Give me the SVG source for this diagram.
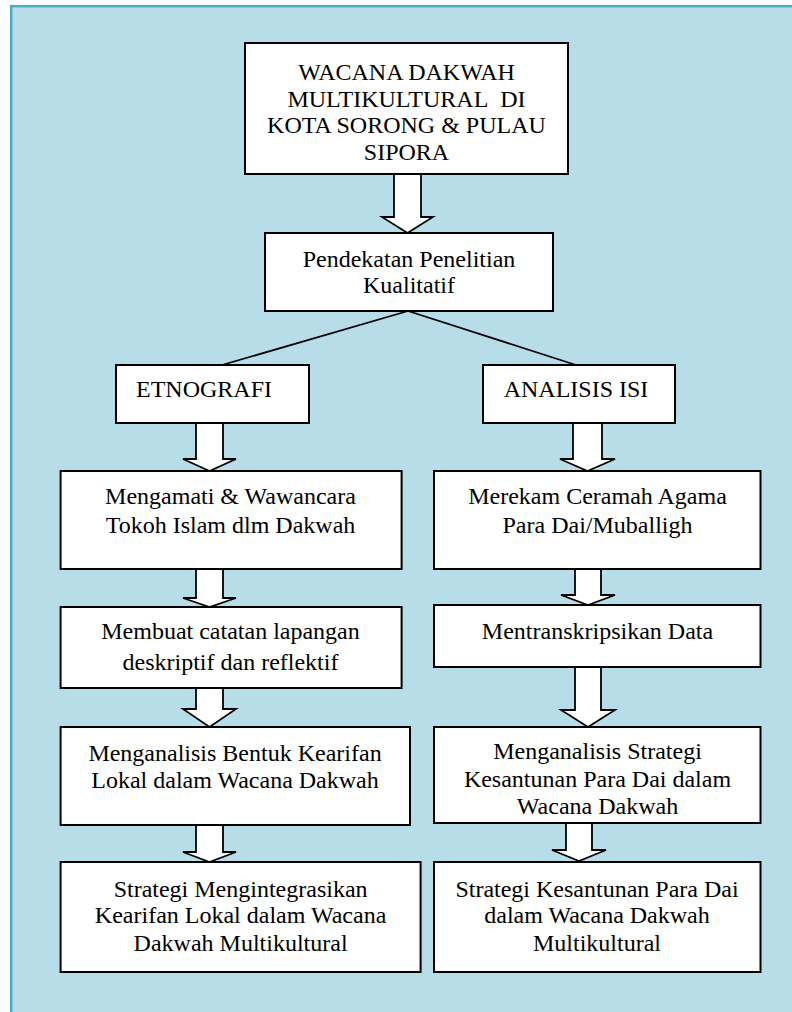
<svg xmlns="http://www.w3.org/2000/svg" width="792" height="1012" viewBox="0 0 792 1012" font-family="'Liberation Serif', 'DejaVu Serif', serif">
<defs>
<style>
.box{fill:#ffffff;stroke:#000000;stroke-width:2}
.arr{fill:#ffffff;stroke:#000000;stroke-width:1.8;stroke-linejoin:miter}
.ln{fill:none;stroke:#000000;stroke-width:1.8}
.t{font-family:'Liberation Serif', 'DejaVu Serif', serif;font-size:24px;fill:#000000;text-anchor:middle}
</style>
<clipPath id="clipStrat"><rect x="434" y="728" width="327" height="87"/></clipPath>
</defs>
<rect x="0" y="0" width="792" height="1012" fill="#ffffff"/>
<rect x="11.2" y="6.2" width="800" height="1020" fill="#b7dde8" stroke="#4bacc6" stroke-width="2.5"/>

<g id="connectors">
<polygon class="arr" points="394,174 421,174 421,217 433,217 407.5,233 382,217 394,217"/>
<line class="ln" x1="408" y1="311" x2="222" y2="365"/>
<line class="ln" x1="408" y1="311" x2="576" y2="365"/>
<polygon class="arr" points="196,423 223,423 223,459 236,459 209.5,471 183,459 196,459"/>
<polygon class="arr" points="196,569 223,569 223,598 236,598 209.5,607 183,598 196,598"/>
<polygon class="arr" points="196,688 223,688 223,709 236,709 209.5,727 183,709 196,709"/>
<polygon class="arr" points="196,825 223,825 223,852 236,852 209.5,862 183,852 196,852"/>
<polygon class="arr" points="573,423 602,423 602,459 615,459 587.5,471 560,459 573,459"/>
<polygon class="arr" points="575,569 601,569 601,595 615,595 588,605 561,595 575,595"/>
<polygon class="arr" points="575,667 601,667 601,710 615,710 588,727 561,710 575,710"/>
<polygon class="arr" points="566,823 592,823 592,850 606,850 579,861 552,850 566,850"/>
</g>

<g id="node-wacana">
<rect class="box" x="245" y="43" width="323" height="131"/>
<text class="t" x="406.5" y="80">WACANA DAKWAH</text>
<text class="t" x="406.5" y="107">MULTIKULTURAL&#160; DI</text>
<text class="t" x="406.5" y="133">KOTA SORONG &amp; PULAU</text>
<text class="t" x="406.5" y="160">SIPORA</text>
</g>

<g id="node-pendekatan">
<rect class="box" x="265" y="233" width="288" height="78"/>
<text class="t" x="409" y="267">Pendekatan Penelitian</text>
<text class="t" x="409" y="293">Kualitatif</text>
</g>

<g id="node-etnografi">
<rect class="box" x="116" y="365" width="193" height="58"/>
<text class="t" x="204" y="397">ETNOGRAFI</text>
</g>

<g id="node-analisis">
<rect class="box" x="483" y="365" width="192" height="58"/>
<text class="t" x="576" y="397">ANALISIS ISI</text>
</g>

<g id="node-mengamati">
<rect class="box" x="60.6" y="471" width="341" height="98"/>
<text class="t" x="230.5" y="504">Mengamati &amp; Wawancara</text>
<text class="t" x="230.5" y="533">Tokoh Islam dlm Dakwah</text>
</g>

<g id="node-merekam">
<rect class="box" x="434" y="471" width="326.5" height="98"/>
<text class="t" x="597.5" y="504">Merekam Ceramah Agama</text>
<text class="t" x="597.5" y="533">Para Dai/Muballigh</text>
</g>

<g id="node-membuat">
<rect class="box" x="60.6" y="607" width="341" height="81"/>
<text class="t" x="230.5" y="639">Membuat catatan lapangan</text>
<text class="t" x="230.5" y="670">deskriptif dan reflektif</text>
</g>

<g id="node-mentranskripsikan">
<rect class="box" x="434" y="605" width="326.5" height="62"/>
<text class="t" x="597.5" y="639">Mentranskripsikan Data</text>
</g>

<g id="node-menganalisis-bentuk">
<rect class="box" x="60.6" y="727" width="349.4" height="98"/>
<text class="t" x="235" y="761">Menganalisis Bentuk Kearifan</text>
<text class="t" x="235" y="788">Lokal dalam Wacana Dakwah</text>
</g>

<g id="node-menganalisis-strategi">
<rect class="box" x="434" y="727" width="326.5" height="96"/>
<g clip-path="url(#clipStrat)">
<text class="t" x="597.5" y="759">Menganalisis Strategi</text>
<text class="t" x="597.5" y="787">Kesantunan Para Dai dalam</text>
<text class="t" x="597.5" y="814">Wacana Dakwah</text>
</g>
</g>

<g id="node-strategi-integrasi">
<rect class="box" x="60.6" y="862" width="360" height="110"/>
<text class="t" x="240.6" y="897">Strategi Mengintegrasikan</text>
<text class="t" x="240.6" y="923">Kearifan Lokal dalam Wacana</text>
<text class="t" x="240.6" y="951">Dakwah Multikultural</text>
</g>

<g id="node-strategi-kesantunan">
<rect class="box" x="434" y="862" width="326.5" height="110"/>
<text class="t" x="597" y="897">Strategi Kesantunan Para Dai</text>
<text class="t" x="597" y="923">dalam Wacana Dakwah</text>
<text class="t" x="597" y="951">Multikultural</text>
</g>
</svg>
